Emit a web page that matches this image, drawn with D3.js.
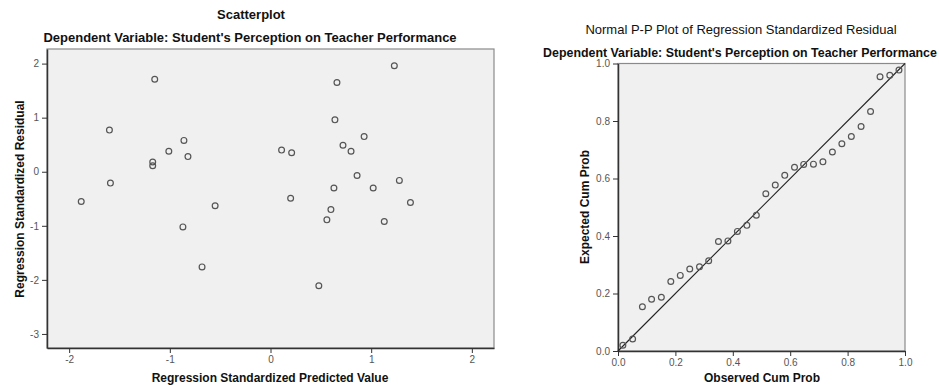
<!DOCTYPE html>
<meta charset="utf-8">
<style>
body { margin: 0; background: #fff; }
svg text { font-family: "Liberation Sans", Arial, sans-serif; }
.title { font-size: 13px; font-weight: bold; fill: #111; }
.axis-title { font-size: 12px; font-weight: bold; fill: #111; }
.tick text { font-size: 10px; fill: #555; }
.tick line, .domain { stroke: #333; }
.pt { fill: none; stroke: #555; stroke-width: 1.2px; }
</style>
<svg width="939" height="385" id="chart"></svg>
<script src="https://d3js.org/d3.v7.min.js"></script>
<script>

// left: scatter of standardized predicted value vs standardized residual
var predicted = [-1.15, -1.60, -0.86, -1.01, -0.82, -1.17, -1.17, -1.59, -1.88, -0.55,
                 -0.87, -0.68, 1.23, 0.66, 0.64, 0.93, 0.11, 0.21, 0.72, 0.80,
                 0.86, 0.63, 1.02, 1.28, 0.20, 1.39, 0.60, 0.56, 1.13, 0.48];
var residual  = [1.71, 0.77, 0.58, 0.38, 0.28, 0.18, 0.11, -0.21, -0.55, -0.63,
                 -1.02, -1.76, 1.96, 1.65, 0.96, 0.65, 0.40, 0.35, 0.49, 0.38,
                 -0.07, -0.30, -0.30, -0.16, -0.49, -0.57, -0.70, -0.89, -0.92, -2.11];
var scatterXTicks = [-2, -1, 0, 1, 2];
var scatterYTicks = [-3, -2, -1, 0, 1, 2];

// right: normal P-P plot
var observedCum = [0.017, 0.051, 0.085, 0.117, 0.151, 0.184, 0.217, 0.250, 0.284, 0.316,
                   0.350, 0.383, 0.416, 0.449, 0.482, 0.515, 0.548, 0.581, 0.615, 0.647,
                   0.681, 0.714, 0.747, 0.780, 0.813, 0.847, 0.880, 0.913, 0.947, 0.979];
var expectedCum = [0.020, 0.042, 0.154, 0.180, 0.187, 0.242, 0.263, 0.285, 0.293, 0.314,
                   0.381, 0.383, 0.416, 0.437, 0.472, 0.547, 0.577, 0.611, 0.639, 0.649,
                   0.650, 0.658, 0.692, 0.721, 0.746, 0.781, 0.833, 0.954, 0.959, 0.977];
var ppTicks = [0, 0.2, 0.4, 0.6, 0.8, 1.0];

var svg = d3.select("#chart");

// plain hyphen instead of unicode minus, like SPSS output
function hyphen(f) {
  return function(d) { return f(d).replace("\u2212", "-"); };
}

function panel(opts) {
  var g = svg.append("g");
  var x = d3.scaleLinear().domain(opts.xDomain).range([opts.left, opts.right]);
  var y = d3.scaleLinear().domain(opts.yDomain).range([opts.bottom, opts.top]);

  // plot background + light frame
  g.append("rect")
      .attr("x", opts.left).attr("y", opts.top)
      .attr("width", opts.right - opts.left).attr("height", opts.bottom - opts.top)
      .attr("fill", "#f0f0f0")
      .attr("stroke", "#8a8a8a")
      .attr("stroke-width", 1.2);

  g.append("g")
      .attr("class", "axis")
      .attr("transform", "translate(0," + opts.bottom + ")")
      .call(d3.axisBottom(x).tickValues(opts.xTicks).tickSize(5).tickSizeOuter(0).tickFormat(opts.fmt))
      .call(function(a) { a.select(".domain").attr("stroke-width", 1.5); });

  g.append("g")
      .attr("class", "axis")
      .attr("transform", "translate(" + opts.left + ",0)")
      .call(d3.axisLeft(y).tickValues(opts.yTicks).tickSize(5).tickSizeOuter(0).tickFormat(opts.fmt))
      .call(function(a) { a.select(".domain").attr("stroke-width", 1.5); });

  g.selectAll(".tick text").attr("font-family", null);

  return { g: g, x: x, y: y };
}

// ---- scatterplot ----
var left = panel({
  left: 47, right: 494, top: 49, bottom: 348,
  xDomain: [-2.22, 2.22], yDomain: [-3.26, 2.27],
  xTicks: scatterXTicks, yTicks: scatterYTicks,
  fmt: hyphen(d3.format("d"))
});

left.g.selectAll("circle.pt")
  .data(predicted)
  .enter().append("circle")
    .attr("class", "pt")
    .attr("r", 2.9)
    .attr("cx", function(d) { return left.x(d); })
    .attr("cy", function(d, i) { return left.y(residual[i]); });

svg.append("text").attr("class", "title")
    .attr("x", 251).attr("y", 19).attr("text-anchor", "middle")
    .text("Scatterplot");
svg.append("text").attr("class", "title")
    .attr("x", 250).attr("y", 42).attr("text-anchor", "middle")
    .text("Dependent Variable: Student's Perception on Teacher Performance");
svg.append("text").attr("class", "axis-title")
    .attr("x", 270).attr("y", 382).attr("text-anchor", "middle")
    .text("Regression Standardized Predicted Value");
svg.append("text").attr("class", "axis-title")
    .attr("transform", "translate(24,199) rotate(-90)")
    .attr("text-anchor", "middle")
    .text("Regression Standardized Residual");

// ---- P-P plot ----
var right = panel({
  left: 618, right: 905, top: 63.5, bottom: 351,
  xDomain: [0, 1], yDomain: [0, 1],
  xTicks: ppTicks, yTicks: ppTicks,
  fmt: d3.format(".1f")
});

right.g.append("line")
    .attr("x1", right.x(0)).attr("y1", right.y(0))
    .attr("x2", right.x(1)).attr("y2", right.y(1))
    .attr("stroke", "#222")
    .attr("stroke-width", 1.1);

right.g.selectAll("circle.pt")
  .data(observedCum)
  .enter().append("circle")
    .attr("class", "pt")
    .attr("r", 2.9)
    .attr("cx", function(d) { return right.x(d); })
    .attr("cy", function(d, i) { return right.y(expectedCum[i]); });

svg.append("text")
    .attr("x", 741).attr("y", 34).attr("text-anchor", "middle")
    .style("font-size", "13px").style("fill", "#111")
    .text("Normal P-P Plot of Regression Standardized Residual");
svg.append("text").attr("class", "title")
    .attr("x", 740).attr("y", 57).attr("text-anchor", "middle")
    .style("font-size", "12.4px")
    .text("Dependent Variable: Student's Perception on Teacher Performance");
svg.append("text").attr("class", "axis-title")
    .attr("x", 762).attr("y", 382).attr("text-anchor", "middle")
    .text("Observed Cum Prob");
svg.append("text").attr("class", "axis-title")
    .attr("transform", "translate(589,207) rotate(-90)")
    .attr("text-anchor", "middle")
    .text("Expected Cum Prob");

</script>
